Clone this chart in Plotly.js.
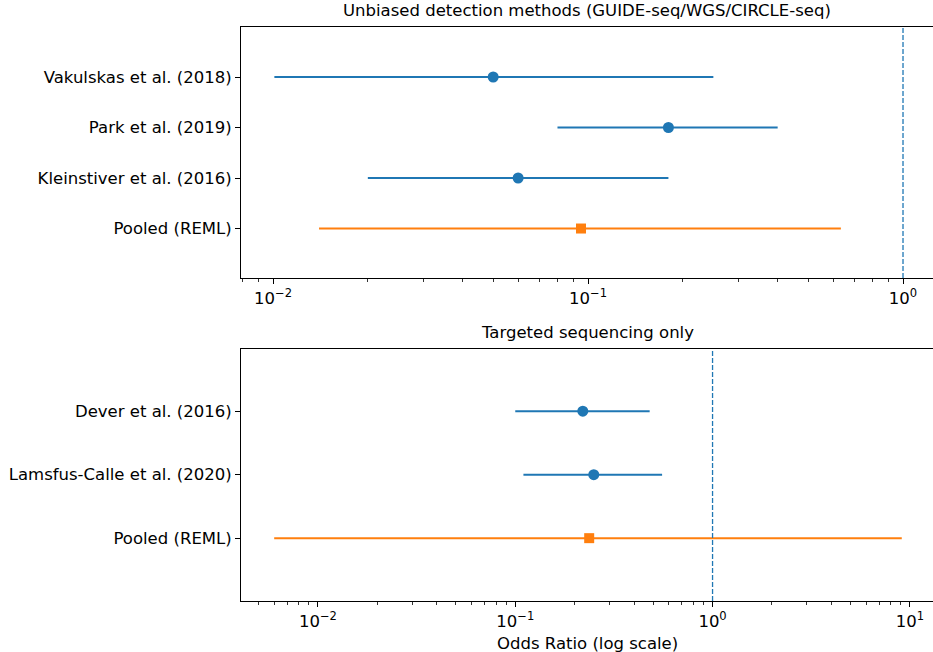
<!DOCTYPE html>
<html>
<head>
<meta charset="utf-8">
<script src="https://cdn.plot.ly/plotly-3.0.1.min.js"></script>
<style>html,body{margin:0;padding:0;overflow:hidden;background:#fff;}</style>
</head>
<body>
<div id="chart" style="width:933px;height:652px;"></div>
<script>
// ---- Data ----
const topStudies = ["Vakulskas et al. (2018)", "Park et al. (2019)", "Kleinstiver et al. (2016)"];
const topOR = [0.05, 0.18, 0.06];
const topLo = [0.0101, 0.08, 0.02];
const topHi = [0.25, 0.40, 0.18];
const topPooledLabel = "Pooled (REML)";
const topPooledOR = [0.095];
const topPooledLo = [0.014];
const topPooledHi = [0.635];

const botStudies = ["Dever et al. (2016)", "Lamsfus-Calle et al. (2020)"];
const botOR = [0.22, 0.25];
const botLo = [0.10, 0.11];
const botHi = [0.48, 0.555];
const botPooledLabel = "Pooled (REML)";
const botPooledOR = [0.237];
const botPooledLo = [0.006];
const botPooledHi = [9.1];

const panelTitles = ["Unbiased detection methods (GUIDE-seq/WGS/CIRCLE-seq)", "Targeted sequencing only"];
const xTitle = "Odds Ratio (log scale)";
const refValue = 1;

// ---- Helpers ----
const BLUE = "#1f77b4", ORANGE = "#ff7f0e";
const FONT = "DejaVu Sans, sans-serif";
const FS = 16.5;
function plus(est, hi){ return hi.map((h,i)=>h-est[i]); }
function minus(est, lo){ return lo.map((l,i)=>est[i]-l); }
function ypos(n){ return Array.from({length:n}, (_,i)=> n - i); }
function minorVals(lo, hi){
  const v=[];
  for(let e=lo;e<=hi;e++){ for(let m=2;m<=9;m++){ v.push(m*Math.pow(10,e)); } }
  return v;
}
function majorTicks(lo, hi){
  const vals=[], txt=[];
  for(let e=lo;e<=hi;e++){ vals.push(Math.pow(10,e)); txt.push("10<sup>"+(e<0?"\u2212"+(-e):e)+"</sup>"); }
  return {vals, txt};
}

const topY = ypos(topStudies.length);
const botY = ypos(botStudies.length);

const traces = [
  {x: topOR, y: topY, xaxis:"x", yaxis:"y", type:"scatter", mode:"markers",
   marker:{color:BLUE, size:11, symbol:"circle"},
   error_x:{type:"data", symmetric:false, array:plus(topOR,topHi), arrayminus:minus(topOR,topLo), color:BLUE, thickness:2, width:0}},
  {x: topPooledOR, y:[0], xaxis:"x", yaxis:"y", type:"scatter", mode:"markers",
   marker:{color:ORANGE, size:10, symbol:"square"},
   error_x:{type:"data", symmetric:false, array:plus(topPooledOR,topPooledHi), arrayminus:minus(topPooledOR,topPooledLo), color:ORANGE, thickness:2, width:0}},
  {x: botOR, y: botY, xaxis:"x2", yaxis:"y2", type:"scatter", mode:"markers",
   marker:{color:BLUE, size:11, symbol:"circle"},
   error_x:{type:"data", symmetric:false, array:plus(botOR,botHi), arrayminus:minus(botOR,botLo), color:BLUE, thickness:2, width:0}},
  {x: botPooledOR, y:[0], xaxis:"x2", yaxis:"y2", type:"scatter", mode:"markers",
   marker:{color:ORANGE, size:10, symbol:"square"},
   error_x:{type:"data", symmetric:false, array:plus(botPooledOR,botPooledHi), arrayminus:minus(botPooledOR,botPooledLo), color:ORANGE, thickness:2, width:0}}
];

const mt1 = majorTicks(-2, 0), mt2 = majorTicks(-3, 1);
const axisCommon = {showline:true, linecolor:"#000", linewidth:1, showgrid:false, zeroline:false,
  ticks:"outside", ticklen:5, tickwidth:1, tickcolor:"#000", tickfont:{family:FONT, size:FS, color:"#000"}};

const layout = {
  width:933, height:652, showlegend:false,
  paper_bgcolor:"#fff", plot_bgcolor:"#fff",
  margin:{l:241, r:0, t:27, b:51},
  font:{family:FONT, size:FS, color:"#000"},
  xaxis: Object.assign({}, axisCommon, {type:"log", range:[-2.1016, 0.0952], anchor:"y", mirror:true,
    tickmode:"array", tickvals:mt1.vals, ticktext:mt1.txt,
    minor:{tickmode:"array", tickvals:minorVals(-3,0), ticks:"outside", ticklen:3, tickwidth:0.8, tickcolor:"#000", showgrid:false}}),
  yaxis: Object.assign({}, axisCommon, {domain:[0.5627,1], range:[-0.98, 3.99], anchor:"x", mirror:false,
    tickmode:"array", tickvals:topY.concat([0]), ticktext:topStudies.concat([topPooledLabel])}),
  xaxis2: Object.assign({}, axisCommon, {type:"log", range:[-2.39, 1.1173], anchor:"y2", mirror:true,
    tickmode:"array", tickvals:mt2.vals, ticktext:mt2.txt,
    minor:{tickmode:"array", tickvals:minorVals(-3,1), ticks:"outside", ticklen:3, tickwidth:0.8, tickcolor:"#000", showgrid:false}}),
  yaxis2: Object.assign({}, axisCommon, {domain:[0,0.439], range:[-0.99, 2.98], anchor:"x2", mirror:false,
    tickmode:"array", tickvals:botY.concat([0]), ticktext:botStudies.concat([botPooledLabel])}),
  shapes:[
    {type:"line", xref:"x", yref:"y domain", x0:refValue, x1:refValue, y0:0, y1:1, line:{color:BLUE, width:1.3, dash:"5px,2px"}},
    {type:"line", xref:"x2", yref:"y2 domain", x0:refValue, x1:refValue, y0:0, y1:1, line:{color:BLUE, width:1.3, dash:"5px,2px"}}
  ],
  annotations:[
    {text:panelTitles[0], xref:"paper", yref:"paper", x:0.5, y:1.028, xanchor:"center", yanchor:"middle", showarrow:false, font:{family:FONT, size:FS, color:"#000"}},
    {text:panelTitles[1], xref:"paper", yref:"paper", x:0.5, y:0.467, xanchor:"center", yanchor:"middle", showarrow:false, font:{family:FONT, size:FS, color:"#000"}},
    {text:xTitle, xref:"paper", yref:"paper", x:0.5, y:-0.0749, xanchor:"center", yanchor:"middle", showarrow:false, font:{family:FONT, size:FS, color:"#000"}}
  ]
};

Plotly.newPlot("chart", traces, layout, {displayModeBar:false, staticPlot:true});
</script>
</body>
</html>
